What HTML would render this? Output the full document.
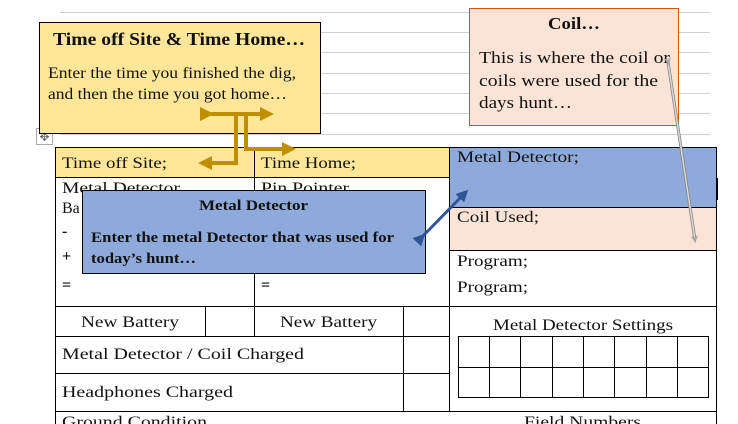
<!DOCTYPE html>
<html><head><meta charset="utf-8"><style>
html,body{margin:0;padding:0;background:#fff;}
svg{display:block;font-family:"Liberation Serif",serif;}
</style></head><body>
<svg width="738" height="424" viewBox="0 0 738 424" xmlns="http://www.w3.org/2000/svg">
<defs>
<marker id="ya" markerWidth="3.5" markerHeight="3.5" refX="1.5" refY="1.75" orient="auto" markerUnits="strokeWidth"><path d="M0,0 L3.5,1.75 L0,3.5 z" fill="#bf8f00"/></marker>
<marker id="ba" markerWidth="4" markerHeight="4" refX="2" refY="2" orient="auto" markerUnits="strokeWidth"><path d="M0,0 L4,2 L0,4 z" fill="#2f5597"/></marker>
<marker id="ga" markerWidth="5" markerHeight="5" refX="3" refY="2.5" orient="auto" markerUnits="strokeWidth"><path d="M0,0 L5,2.5 L0,5 L1.5,2.5 z" fill="#a6a6a6"/></marker>
</defs>
<g stroke="#d0d0d0" stroke-width="1">
<line x1="60" y1="12.5" x2="710" y2="12.5"/><line x1="60" y1="32.5" x2="710" y2="32.5"/><line x1="60" y1="52.5" x2="710" y2="52.5"/><line x1="60" y1="73.5" x2="710" y2="73.5"/><line x1="60" y1="93.5" x2="710" y2="93.5"/><line x1="60" y1="113.5" x2="710" y2="113.5"/><line x1="60" y1="134.5" x2="710" y2="134.5"/>
</g>
<rect x="55" y="147" width="394" height="30" fill="#ffe699"/>
<rect x="449" y="147" width="268" height="60" fill="#8eaadb"/>
<rect x="449" y="207" width="268" height="43" fill="#fbe4d5"/>
<g stroke="#000" stroke-width="1" fill="none">
<rect x="55.5" y="147.5" width="661" height="290"/>
<line x1="55" y1="177.5" x2="449" y2="177.5"/>
<line x1="254.5" y1="147" x2="254.5" y2="336"/>
<line x1="449.5" y1="147" x2="449.5" y2="411"/>
<line x1="449" y1="207.5" x2="717" y2="207.5"/>
<line x1="449" y1="250.5" x2="717" y2="250.5"/>
<line x1="55" y1="306.5" x2="717" y2="306.5"/>
<line x1="55" y1="336.5" x2="449" y2="336.5"/>
<line x1="55" y1="373.5" x2="449" y2="373.5"/>
<line x1="55" y1="411.5" x2="717" y2="411.5"/>
<line x1="205.5" y1="306" x2="205.5" y2="336"/>
<line x1="403.5" y1="306" x2="403.5" y2="411"/>
<rect x="458.5" y="336.5" width="250" height="61"/>
<line x1="458" y1="367.5" x2="709" y2="367.5"/>
<line x1="489.5" y1="336" x2="489.5" y2="398"/><line x1="520.5" y1="336" x2="520.5" y2="398"/><line x1="552.5" y1="336" x2="552.5" y2="398"/><line x1="583.5" y1="336" x2="583.5" y2="398"/><line x1="614.5" y1="336" x2="614.5" y2="398"/><line x1="646.5" y1="336" x2="646.5" y2="398"/><line x1="677.5" y1="336" x2="677.5" y2="398"/>
<line x1="717.5" y1="178" x2="717.5" y2="200"/>
</g>
<g font-size="16" fill="#111" lengthAdjust="spacingAndGlyphs">
<text x="62" y="168" textLength="105" lengthAdjust="spacingAndGlyphs">Time off Site;</text>
<text x="261" y="168" textLength="95" lengthAdjust="spacingAndGlyphs">Time Home;</text>
<text x="62" y="193" textLength="118" lengthAdjust="spacingAndGlyphs">Metal Detector</text>
<text x="62" y="213">Ba</text>
<text x="261" y="193" textLength="88" lengthAdjust="spacingAndGlyphs">Pin Pointer</text>
<text x="62" y="236" font-weight="bold">-</text>
<text x="62" y="261" font-weight="bold">+</text>
<text x="62" y="290" font-weight="bold">=</text>
<text x="261" y="290" font-weight="bold">=</text>
<text x="457" y="162" textLength="122" lengthAdjust="spacingAndGlyphs">Metal Detector;</text>
<text x="457" y="222" textLength="82" lengthAdjust="spacingAndGlyphs">Coil Used;</text>
<text x="457" y="266" textLength="71" lengthAdjust="spacingAndGlyphs">Program;</text>
<text x="457" y="292" textLength="71" lengthAdjust="spacingAndGlyphs">Program;</text>
<text x="81" y="327" textLength="98" lengthAdjust="spacingAndGlyphs">New Battery</text>
<text x="280" y="327" textLength="97" lengthAdjust="spacingAndGlyphs">New Battery</text>
<text x="493" y="330" textLength="180" lengthAdjust="spacingAndGlyphs">Metal Detector Settings</text>
<text x="62" y="359" textLength="242" lengthAdjust="spacingAndGlyphs">Metal Detector / Coil Charged</text>
<text x="62" y="397" textLength="171" lengthAdjust="spacingAndGlyphs">Headphones Charged</text>
<text x="62" y="427" textLength="145" lengthAdjust="spacingAndGlyphs">Ground Condition</text>
<text x="524" y="427" textLength="117" lengthAdjust="spacingAndGlyphs">Field Numbers</text>
</g>
<rect x="36.5" y="128.5" width="16" height="16" fill="#fff" stroke="#aaa"/>
<text x="44.5" y="141" font-size="12" text-anchor="middle" fill="#666">✥</text>
<rect x="39.5" y="22.5" width="281" height="111" fill="#ffe699" stroke="#000"/>
<text x="53" y="45" font-size="18" font-weight="bold" fill="#111" textLength="252" lengthAdjust="spacingAndGlyphs">Time off Site &amp; Time Home…</text>
<text x="48" y="78" font-size="16" fill="#111" textLength="248" lengthAdjust="spacingAndGlyphs">Enter the time you finished the dig,</text>
<text x="48" y="99" font-size="16" fill="#111" textLength="239" lengthAdjust="spacingAndGlyphs">and then the time you got home…</text>
<rect x="469.5" y="8.5" width="209" height="117" fill="#fbe4d5" stroke="#c55a11"/>
<text x="548" y="29" font-size="17" font-weight="bold" fill="#111" textLength="52" lengthAdjust="spacingAndGlyphs">Coil…</text>
<text x="479" y="63" font-size="16.5" fill="#111" textLength="191" lengthAdjust="spacingAndGlyphs">This is where the coil or</text>
<text x="479" y="86" font-size="16.5" fill="#111" textLength="179" lengthAdjust="spacingAndGlyphs">coils were used for the</text>
<text x="479" y="108" font-size="16.5" fill="#111" textLength="93" lengthAdjust="spacingAndGlyphs">days hunt…</text>
<rect x="82.5" y="190.5" width="343" height="83" fill="#8eaadb" stroke="#000"/>
<text x="199" y="210" font-size="15" font-weight="bold" fill="#111" textLength="109" lengthAdjust="spacingAndGlyphs">Metal Detector</text>
<text x="91" y="242" font-size="15" font-weight="bold" fill="#111" textLength="303" lengthAdjust="spacingAndGlyphs">Enter the metal Detector that was used for</text>
<text x="91" y="263" font-size="15" font-weight="bold" fill="#111" textLength="105" lengthAdjust="spacingAndGlyphs">today’s hunt…</text>
<g stroke="#bf8f00" stroke-width="4" fill="none">
<polyline points="206,114 266,114" marker-start="url(#ya)" marker-end="url(#ya)"/>
<polyline points="236,114 236,163 206,163" marker-end="url(#ya)"/>
<polyline points="246,114 246,149 288,149" marker-end="url(#ya)"/>
</g>
<line x1="421" y1="238" x2="464" y2="194" stroke="#2f5597" stroke-width="3" marker-start="url(#ba)" marker-end="url(#ba)"/>
<line x1="668" y1="62" x2="695" y2="240" stroke="#808080" stroke-width="3"/>
<line x1="668" y1="62" x2="695" y2="240" stroke="#d9d9d9" stroke-width="1.5" marker-start="url(#ga)" marker-end="url(#ga)"/>
</svg>
</body></html>
